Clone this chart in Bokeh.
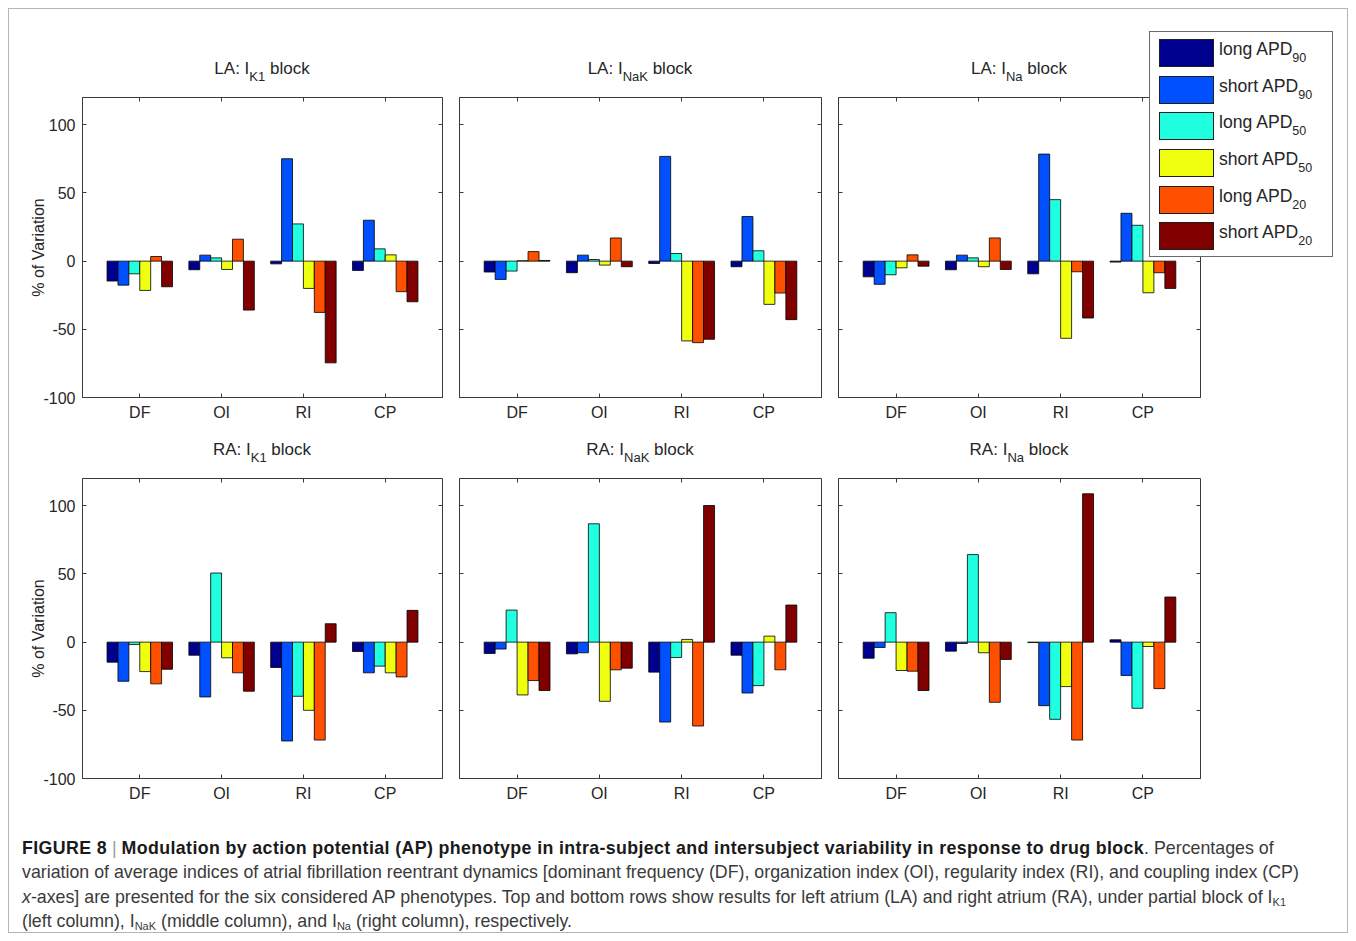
from bokeh.plotting import figure
from bokeh.models import (ColumnDataSource, FactorRange, Range1d, FixedTicker,
                          LinearAxis, CategoricalAxis, Div)
from bokeh.transform import dodge
from bokeh.layouts import column, row
from bokeh.embed import file_html
from bokeh.resources import INLINE

FONT = "Liberation Sans"
CSSFONT = "'Liberation Sans', Arial, sans-serif"
TEXT = "#262626"
AXC = "#3a3a3a"

# ---------------- data ----------------
categories = ["DF", "OI", "RI", "CP"]
series_keys = ["long90", "short90", "long50", "short50", "long20", "short20"]
series_labels = ["long APD", "short APD", "long APD", "short APD", "long APD", "short APD"]
series_subs = ["90", "90", "50", "50", "20", "20"]
series_colors = ["#00008F", "#0050FF", "#20FFDF", "#F0FF10", "#FF5000", "#800000"]
y_ticks = [-100, -50, 0, 50, 100]
y_tick_labels = ["-100", "-50", "0", "50", "100"]
y_axis_title = "% of Variation"

# LA: I_K1 block
la_k1_long90 = [-14.6, -6.3, -2.0, -6.8]
la_k1_short90 = [-17.6, 4.4, 75.1, 30.0]
la_k1_long50 = [-9.3, 2.4, 27.3, 9.0]
la_k1_short50 = [-21.5, -6.1, -20.0, 4.6]
la_k1_long20 = [3.4, 16.1, -37.6, -22.4]
la_k1_short20 = [-18.8, -35.9, -74.6, -29.8]

# LA: I_NaK block
la_nak_long90 = [-8.0, -8.5, -1.7, -4.1]
la_nak_short90 = [-13.4, 4.4, 76.8, 32.7]
la_nak_long50 = [-7.3, 1.2, 5.6, 7.6]
la_nak_short50 = [0.3, -2.9, -58.5, -31.7]
la_nak_long20 = [7.0, 17.0, -59.8, -23.4]
la_nak_short20 = [0.5, -4.1, -57.3, -42.9]

# LA: I_Na block
la_na_long90 = [-11.5, -6.3, -9.3, -0.7]
la_na_short90 = [-17.0, 4.4, 78.5, 35.1]
la_na_long50 = [-10.0, 2.4, 45.1, 26.3]
la_na_short50 = [-4.9, -4.1, -56.6, -23.2]
la_na_long20 = [4.6, 17.0, -7.8, -8.5]
la_na_short20 = [-3.7, -6.1, -41.7, -20.0]

# RA: I_K1 block
ra_k1_long90 = [-14.7, -9.6, -18.6, -6.9]
ra_k1_short90 = [-28.7, -40.2, -72.5, -22.5]
ra_k1_long50 = [-1.7, 50.7, -39.7, -17.6]
ra_k1_short50 = [-21.6, -11.5, -50.0, -22.5]
ra_k1_long20 = [-30.6, -22.5, -71.8, -25.5]
ra_k1_short20 = [-19.9, -36.0, 13.5, 23.3]

# RA: I_NaK block
ra_nak_long90 = [-8.3, -8.6, -22.0, -9.6]
ra_nak_short90 = [-5.1, -7.8, -58.6, -37.3]
ra_nak_long50 = [23.5, 86.8, -11.3, -31.9]
ra_nak_short50 = [-38.7, -43.4, 2.0, 4.4]
ra_nak_long20 = [-28.2, -20.3, -61.5, -20.3]
ra_nak_short20 = [-35.5, -19.1, 100.2, 27.2]

# RA: I_Na block
ra_na_long90 = [-11.8, -6.6, -0.3, 1.7]
ra_na_short90 = [-3.9, -1.0, -46.6, -24.5]
ra_na_long50 = [21.6, 64.2, -56.6, -48.5]
ra_na_short50 = [-20.8, -7.8, -32.6, -3.2]
ra_na_long20 = [-21.3, -44.1, -71.8, -34.1]
ra_na_short20 = [-35.5, -12.7, 108.8, 33.1]

panels = [
    ("LA", "K1", [la_k1_long90, la_k1_short90, la_k1_long50, la_k1_short50, la_k1_long20, la_k1_short20]),
    ("LA", "NaK", [la_nak_long90, la_nak_short90, la_nak_long50, la_nak_short50, la_nak_long20, la_nak_short20]),
    ("LA", "Na", [la_na_long90, la_na_short90, la_na_long50, la_na_short50, la_na_long20, la_na_short20]),
    ("RA", "K1", [ra_k1_long90, ra_k1_short90, ra_k1_long50, ra_k1_short50, ra_k1_long20, ra_k1_short20]),
    ("RA", "NaK", [ra_nak_long90, ra_nak_short90, ra_nak_long50, ra_nak_short50, ra_nak_long20, ra_nak_short20]),
    ("RA", "Na", [ra_na_long90, ra_na_short90, ra_na_long50, ra_na_short50, ra_na_long20, ra_na_short20]),
]

# layout geometry (px)
FRAME_W = [360, 362, 362]
BORDER_L = [73, 9, 9]
BORDER_R = [8, 8, 8]
FRAME_H = 300
BORDER_T = 12
BORDER_B = 36
TITLE_H = [76, 33]


def make_panel(idx, series):
    col = idx % 3
    fw = FRAME_W[col]
    p = figure(x_range=FactorRange(factors=categories, range_padding=0.1),
               y_range=Range1d(-100, 120), frame_width=fw, frame_height=FRAME_H,
               min_border_left=BORDER_L[col], min_border_right=BORDER_R[col],
               min_border_top=BORDER_T, min_border_bottom=BORDER_B,
               output_backend="svg", toolbar_location=None,
               outline_line_color=AXC, outline_line_width=1,
               background_fill_color="white", border_fill_color="white", margin=0)
    p.xgrid.grid_line_color = None
    p.ygrid.grid_line_color = None

    data = {"cat": categories}
    for k, vals in zip(series_keys, series):
        data[k] = vals
    src = ColumnDataSource(data)
    bw = 0.8 / 6
    for i, k in enumerate(series_keys):
        p.vbar(x=dodge("cat", (i - 2.5) * bw, range=p.x_range), top=k, bottom=0,
               width=bw, source=src, fill_color=series_colors[i],
               line_color="#000000", line_width=0.8)

    xa = p.xaxis[0]
    xa.major_label_text_font = FONT
    xa.major_label_text_font_size = "16px"
    xa.major_label_text_color = TEXT
    xa.major_label_standoff = 6
    xa.major_tick_in = 4
    xa.major_tick_out = 0
    xa.axis_line_color = AXC
    xa.major_tick_line_color = AXC

    ya = p.yaxis[0]
    ya.ticker = FixedTicker(ticks=y_ticks)
    ya.minor_tick_line_color = None
    ya.major_tick_in = 4
    ya.major_tick_out = 0
    ya.axis_line_color = AXC
    ya.major_tick_line_color = AXC
    ya.major_label_text_font = FONT
    ya.major_label_text_font_size = "16px"
    ya.major_label_text_color = TEXT
    if col == 0:
        ya.major_label_overrides = {t: s for t, s in zip(y_ticks, y_tick_labels)}
        ya.major_label_standoff = 7
        ya.axis_label = y_axis_title
        ya.axis_label_text_font = FONT
        ya.axis_label_text_font_size = "16px"
        ya.axis_label_text_font_style = "normal"
        ya.axis_label_text_color = TEXT
        ya.axis_label_standoff = -7
    else:
        ya.major_label_overrides = {t: "" for t in y_ticks}
        ya.major_label_standoff = 0

    ry = LinearAxis(ticker=FixedTicker(ticks=y_ticks),
                    major_label_overrides={t: "" for t in y_ticks},
                    major_label_standoff=0, major_tick_in=4, major_tick_out=0,
                    minor_tick_line_color=None, axis_line_color=None,
                    major_tick_line_color=AXC)
    p.add_layout(ry, "right")
    tx = CategoricalAxis(major_label_text_color=None, major_label_text_font_size="1px",
                         major_label_standoff=0, major_tick_in=4, major_tick_out=0,
                         axis_line_color=None, major_tick_line_color=AXC)
    p.add_layout(tx, "above")
    return p


SUB = '<sub style="font-size:{fs}px;line-height:0;vertical-align:-7px">{t}</sub>'


def title_div(atrium, cur, col, rowi):
    w = BORDER_L[col] + FRAME_W[col] + BORDER_R[col]
    center = BORDER_L[col] + FRAME_W[col] / 2
    pl = 2 * center - w
    top = 50 if rowi == 0 else 7
    html = (f'<div style="margin-left:{pl}px;width:{w - pl}px;padding-top:{top}px;'
            f'text-align:center;font-family:{CSSFONT};font-size:17px;line-height:20px;'
            f'color:{TEXT};white-space:nowrap">{atrium}: I{SUB.format(fs=13, t=cur)} block</div>')
    return Div(text=html, width=w, height=TITLE_H[rowi], margin=0)


def legend_div():
    parts = []
    for i in range(6):
        top = 7 + i * 36.67
        parts.append(f'<div style="position:absolute;left:9px;top:{top:.1f}px;width:55px;'
                     f'height:28px;box-sizing:border-box;border:1px solid #1e1e1e;'
                     f'background:{series_colors[i]}"></div>')
        parts.append(f'<div style="position:absolute;left:69px;top:{top - 4.2:.1f}px;'
                     f'line-height:28px;font-size:17.6px;white-space:nowrap">'
                     f'{series_labels[i]}{SUB.format(fs=12.5, t=series_subs[i])}</div>')
    html = (f'<div style="position:relative;width:184px;height:226px;box-sizing:border-box;'
            f'border:1px solid #6a6a6a;background:#ffffff;font-family:{CSSFONT};'
            f'color:{TEXT}">' + "".join(parts) + '</div>')
    return Div(text=html, width=184, height=226, margin=(-54, 0, 0, -59))


figs = [make_panel(i, s) for i, (a, c, s) in enumerate(panels)]
titles = [title_div(a, c, i % 3, i // 3) for i, (a, c, s) in enumerate(panels)]

csub = '<sub style="font-size:11px;line-height:0;vertical-align:-3px">{}</sub>'
BOLD = 'style="color:#1a1a1a;letter-spacing:0.38px"'
caption_html = (
    f'<div style="font-family:{CSSFONT};font-size:17.8px;'
    'line-height:24.4px;color:#3a3a3a;padding:22px 0 0 13px;white-space:nowrap;">'
    f'<b {BOLD}>FIGURE 8</b> <span style="color:#9a9a9a">|</span> '
    f'<b {BOLD}>Modulation by action potential (AP) phenotype in intra-subject '
    'and intersubject variability in response to drug block</b>. Percentages of<br>'
    'variation of average indices of atrial fibrillation reentrant dynamics [dominant frequency (DF), '
    'organization index (OI), regularity index (RI), and coupling index (CP)<br>'
    '<i>x</i>-axes] are presented for the six considered AP phenotypes. Top and bottom rows show '
    'results for left atrium (LA) and right atrium (RA), under partial block of I' + csub.format("K1") + '<br>'
    '(left column), I' + csub.format("NaK") + ' (middle column), and I' + csub.format("Na")
    + ' (right column), respectively.'
    '</div>'
)
caption = Div(text=caption_html, width=1338, height=118, margin=0)

layout = column(
    row(*titles[:3], spacing=0),
    row(*figs[:3], legend_div(), spacing=0),
    row(*titles[3:], spacing=0),
    row(*figs[3:], spacing=0),
    caption,
    spacing=0, margin=(8, 8, 8, 8),
    styles={"border": "1px solid #b5b5b5", "background": "white"})

open("out.html", "w").write(file_html(layout, INLINE))
